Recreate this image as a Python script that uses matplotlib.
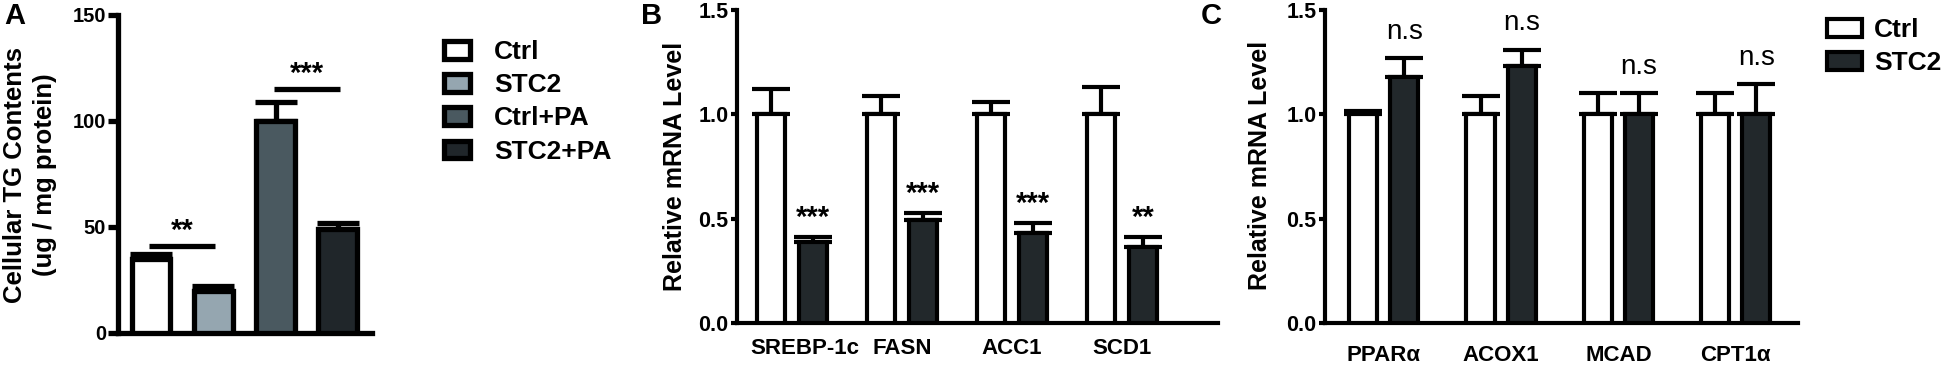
import matplotlib
matplotlib.use('Agg')
import matplotlib.pyplot as plt
import numpy as np
from matplotlib.transforms import ScaledTranslation

plt.rcParams['font.family'] = ['Liberation Sans', 'DejaVu Sans']
plt.rcParams['font.weight'] = 'bold'

# ---------------- data ----------------
# Panel A
a_groups = ['Ctrl', 'STC2', 'Ctrl+PA', 'STC2+PA']
a_means = [35, 20, 100, 49]
a_errs = [2.5, 2.0, 9.0, 3.0]
a_colors = ['#ffffff', '#95a6b0', '#4a5960', '#20262a']
a_yticks = [0, 50, 100, 150]
a_sig_pairs = [(0, 1), (2, 3)]
a_sig_heights = [41, 115]
a_sig_labels = ['**', '***']

# Panel B
b_genes = ['SREBP-1c', 'FASN', 'ACC1', 'SCD1']
b_ctrl = [1.0, 1.0, 1.0, 1.0]
b_ctrl_err = [0.12, 0.09, 0.06, 0.13]
b_stc2 = [0.39, 0.495, 0.43, 0.365]
b_stc2_err = [0.02, 0.03, 0.05, 0.045]
b_sig = ['***', '***', '***', '**']

# Panel C
c_genes = ['PPARα', 'ACOX1', 'MCAD', 'CPT1α']
c_ctrl = [1.0, 1.0, 1.0, 1.0]
c_ctrl_err = [0.015, 0.09, 0.10, 0.10]
c_stc2 = [1.18, 1.23, 1.0, 1.0]
c_stc2_err = [0.09, 0.08, 0.10, 0.145]
c_sig = ['n.s', 'n.s', 'n.s', 'n.s']

mrna_yticks = [0.0, 0.5, 1.0, 1.5]
series_names = ['Ctrl', 'STC2']
ctrl_color = '#ffffff'
stc2_color = '#22282b'

W, H = 1950, 366
fig = plt.figure(figsize=(W / 100, H / 100), dpi=100)


def frac_axes(l, r, t, b):
    return fig.add_axes([l / W, 1 - b / H, (r - l) / W, (b - t) / H])


def style(ax, lw, ymax, yticks, fmt, ticklen, ysize):
    for s in ['top', 'right']:
        ax.spines[s].set_visible(False)
    for s in ['left', 'bottom']:
        ax.spines[s].set_linewidth(lw)
    ax.set_ylim(0, ymax)
    ax.set_yticks(yticks, labels=[fmt.format(v) for v in yticks],
                  fontsize=ysize, fontweight='bold')
    ax.tick_params(axis='y', length=ticklen, width=lw, pad=1.5)


# ---------------- Panel A ----------------
axA = frac_axes(118, 372, 15, 333)
lwA = 3.8
xA = np.arange(len(a_groups))
barsA = axA.bar(xA, a_means, width=0.62, color=a_colors, edgecolor='black',
                linewidth=lwA, zorder=3)
axA.errorbar(xA, a_means, yerr=[np.zeros(len(a_errs)), a_errs], fmt='none',
             ecolor='black', elinewidth=lwA, capsize=15, capthick=lwA, zorder=2)
for (i0, i1), h, lab in zip(a_sig_pairs, a_sig_heights, a_sig_labels):
    axA.plot([xA[i0] - 0.03, xA[i1] + 0.03], [h, h], color='black', lw=lwA,
             solid_capstyle='butt', zorder=4)
    axA.annotate(lab, xy=((xA[i0] + xA[i1]) / 2, h), xytext=(0, 5),
                 textcoords='offset points', ha='center', va='baseline',
                 fontsize=21, fontweight='bold')
axA.set_xlim(-0.53, 3.55)
style(axA, lwA, 150, a_yticks, '{:.0f}', 7, 14.5)
axA.set_xticks([])
fig.text(30 / W, 1 - 175 / H, 'Cellular TG Contents\n(ug / mg protein)',
         rotation=90, ha='center', va='center', fontsize=18.5,
         fontweight='bold', linespacing=1.3, multialignment='center')
fig.legend(handles=list(barsA.patches), labels=a_groups, loc='upper left',
           bbox_to_anchor=(444 / W, 1 - 40 / H), frameon=False, fontsize=19,
           handlelength=1.0, handleheight=0.65, handletextpad=0.9,
           labelspacing=0.35, borderpad=0, borderaxespad=0)


def grouped(ax, lw, ctrl, ctrl_err, stc, stc_err, off, width, cap):
    x = np.arange(len(ctrl))
    b1 = ax.bar(x - off, ctrl, width=width, color=ctrl_color, edgecolor='black',
                linewidth=lw, zorder=3, label=series_names[0])
    b2 = ax.bar(x + off, stc, width=width, color=stc2_color, edgecolor='black',
                linewidth=lw, zorder=3, label=series_names[1])
    ax.errorbar(x - off, ctrl, yerr=[np.zeros(len(ctrl)), ctrl_err], fmt='none',
                ecolor='black', elinewidth=lw, capsize=cap, capthick=lw, zorder=2)
    ax.errorbar(x + off, stc, yerr=[np.zeros(len(stc)), stc_err], fmt='none',
                ecolor='black', elinewidth=lw, capsize=cap, capthick=lw, zorder=2)
    return x, b1, b2


# ---------------- Panel B ----------------
axB = frac_axes(737, 1218, 10, 323)
lwB = 3.0
xB, _, _ = grouped(axB, lwB, b_ctrl, b_ctrl_err, b_stc2, b_stc2_err, 0.19, 0.255, 14)
for xi, m, e, lab in zip(xB, b_stc2, b_stc2_err, b_sig):
    axB.annotate(lab, xy=(xi + 0.19, m + e), xytext=(0, 8),
                 textcoords='offset points', ha='center', va='baseline',
                 fontsize=21, fontweight='bold')
axB.set_xlim(-0.5, 3.87)
style(axB, lwB, 1.5, mrna_yticks, '{:.1f}', 4.5, 15.5)
axB.set_xticks(xB, labels=b_genes, fontsize=16, fontweight='bold')
axB.tick_params(axis='x', length=0, pad=11)
lbl0 = axB.get_xticklabels()[0]
lbl0.set_transform(lbl0.get_transform() + ScaledTranslation(9 / 72, 0, fig.dpi_scale_trans))
fig.text(675 / W, 1 - 166 / H, 'Relative mRNA Level', rotation=90,
         ha='center', va='center', fontsize=18, fontweight='bold')

# ---------------- Panel C ----------------
axC = frac_axes(1325, 1798, 10, 323)
lwC = 3.0
xC, c1, c2 = grouped(axC, lwC, c_ctrl, c_ctrl_err, c_stc2, c_stc2_err, 0.175, 0.24, 14)
for xi, m, e, lab in zip(xC, c_stc2, c_stc2_err, c_sig):
    axC.annotate(lab, xy=(xi + 0.175, m + e), xytext=(0, 14),
                 textcoords='offset points', ha='center', va='baseline',
                 fontsize=20, fontweight='normal', annotation_clip=False)
axC.set_xlim(-0.5, 3.53)
style(axC, lwC, 1.5, mrna_yticks, '{:.1f}', 4.5, 15.5)
axC.set_xticks(xC, labels=c_genes, fontsize=16, fontweight='bold')
axC.tick_params(axis='x', length=0, pad=16)
fig.text(1260 / W, 1 - 165 / H, 'Relative mRNA Level', rotation=90,
         ha='center', va='center', fontsize=18, fontweight='bold')
fig.legend(handles=[c1.patches[0], c2.patches[0]], labels=series_names,
           loc='upper left', bbox_to_anchor=(1827 / W, 1 - 18 / H), frameon=False,
           fontsize=19, handlelength=1.33, handleheight=0.65, handletextpad=0.45,
           labelspacing=0.35, borderpad=0, borderaxespad=0)

# panel letters
for x, t in [(4, 'A'), (641, 'B'), (1201, 'C')]:
    fig.text(x / W, 1 - 2 / H, t, ha='left', va='top', fontsize=21,
             fontweight='bold')

fig.savefig('out.png', dpi=100)
